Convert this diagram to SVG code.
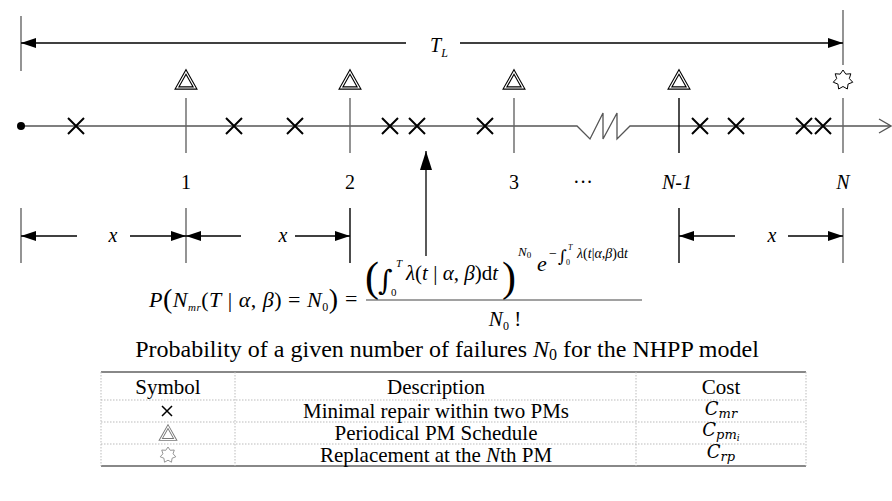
<svg xmlns="http://www.w3.org/2000/svg" width="892" height="501" viewBox="0 0 892 501" font-family="'Liberation Serif', 'Times New Roman', serif">
<style>
text{font-family:"Liberation Serif","Times New Roman",serif;fill:#000}
.i{font-style:italic}
.int{font-family:"DejaVu Serif","Liberation Serif",serif}
.tl{stroke:#555;stroke-width:1.3;fill:none}
.tick{stroke:#666;stroke-width:1.4}
.blk{stroke:#000;stroke-width:1.4}
.ar{stroke:#000;stroke-width:1.3;fill:none}
.x{stroke:#000;stroke-width:2;fill:none}
.gd{stroke:#bbb;stroke-width:1;stroke-dasharray:1.5 1.5}
.gs{stroke:#888;stroke-width:1.8}
.cm{font-family:"DejaVu Serif","Liberation Serif",serif;font-style:italic}
</style>
<defs>
<marker id="ah" markerUnits="userSpaceOnUse" markerWidth="16" markerHeight="12" refX="15" refY="5" orient="auto"><path d="M0,0 L15,5 L0,10 z" fill="#000"/></marker>
<marker id="ahb" markerUnits="userSpaceOnUse" markerWidth="20" markerHeight="14" refX="19" refY="6" orient="auto"><path d="M0,0 L19,6 L0,12 z" fill="#000"/></marker>
<path id="xm" d="M-8,-8 L8,8 M-8,8 L8,-8"/>
<path id="tri" d="M0,-8 L9,8 L-9,8 Z"/>
<path id="star" d="M0,-10 L2.82,-5.86 L7.82,-6.24 L6.34,-1.45 L9.75,2.22 L5.08,4.05 L4.34,9.01 L0,6.5 L-4.34,9.01 L-5.08,4.05 L-9.75,2.22 L-6.34,-1.45 L-7.82,-6.24 L-2.82,-5.86 Z"/>
</defs>

<g id="connectors">
<line class="tick" x1="21" y1="16" x2="21" y2="71"/>
<line class="tick" x1="843" y1="10" x2="843" y2="65"/>
<line class="ar" x1="406" y1="43" x2="21" y2="43" marker-end="url(#ah)"/>
<line class="ar" x1="460" y1="43" x2="843" y2="43" marker-end="url(#ah)"/>
<path class="tl" d="M21,126 H577 L590,139 L603,113 L603,139 L617,113 L617,139 L630,126 H890"/>
<path class="tl" d="M879,119 L891,126 L879,133"/>
<line class="tick" x1="21" y1="208" x2="21" y2="263"/>
<line class="tick" x1="186" y1="208" x2="186" y2="263"/>
<line class="blk" x1="350" y1="208" x2="350" y2="263"/>
<line class="blk" x1="679" y1="208" x2="679" y2="263"/>
<line class="tick" x1="843" y1="208" x2="843" y2="263"/>
<line class="ar" x1="77" y1="236" x2="21" y2="236" marker-end="url(#ah)"/>
<line class="ar" x1="130" y1="236" x2="186" y2="236" marker-end="url(#ah)"/>
<line class="ar" x1="241" y1="236" x2="186" y2="236" marker-end="url(#ah)"/>
<line class="ar" x1="295" y1="236" x2="350" y2="236" marker-end="url(#ah)"/>
<line class="ar" x1="735" y1="236" x2="679" y2="236" marker-end="url(#ah)"/>
<line class="ar" x1="788" y1="236" x2="843" y2="236" marker-end="url(#ah)"/>
<line class="ar" x1="426" y1="256" x2="426" y2="151" stroke-width="1.6" marker-end="url(#ahb)"/>
</g>

<g id="start"><circle cx="21" cy="126" r="4" fill="#000"/></g>

<g id="failures">
<use href="#xm" class="x" x="76" y="126"/>
<use href="#xm" class="x" x="234" y="126"/>
<use href="#xm" class="x" x="295" y="126"/>
<use href="#xm" class="x" x="390" y="126"/>
<use href="#xm" class="x" x="417" y="126"/>
<use href="#xm" class="x" x="485" y="126"/>
<use href="#xm" class="x" x="700" y="126"/>
<use href="#xm" class="x" x="736" y="126"/>
<use href="#xm" class="x" x="804" y="126"/>
<use href="#xm" class="x" x="823" y="126"/>
</g>

<g id="pm1"><line class="tick" x1="186" y1="98" x2="186" y2="153"/><use href="#tri" x="186" y="80" fill="none" stroke="#000" stroke-width="3.4"/><use href="#tri" x="186" y="80" fill="none" stroke="#fff" stroke-width="1.2"/><text x="186" y="189" font-size="20" text-anchor="middle">1</text></g>
<g id="pm2"><line class="tick" x1="350" y1="98" x2="350" y2="153"/><use href="#tri" x="350" y="80" fill="none" stroke="#000" stroke-width="3.4"/><use href="#tri" x="350" y="80" fill="none" stroke="#fff" stroke-width="1.2"/><text x="350" y="189" font-size="20" text-anchor="middle">2</text></g>
<g id="pm3"><line class="tick" x1="514" y1="98" x2="514" y2="153"/><use href="#tri" x="514" y="80" fill="none" stroke="#000" stroke-width="3.4"/><use href="#tri" x="514" y="80" fill="none" stroke="#fff" stroke-width="1.2"/><text x="514" y="189" font-size="20" text-anchor="middle">3</text></g>
<g id="dots"><text x="583" y="189" font-size="20" text-anchor="middle">···</text></g>
<g id="pmN1"><line class="blk" x1="679" y1="98" x2="679" y2="153"/><use href="#tri" x="679" y="80" fill="none" stroke="#000" stroke-width="3.4"/><use href="#tri" x="679" y="80" fill="none" stroke="#fff" stroke-width="1.2"/><text x="677" y="189" font-size="20" text-anchor="middle" class="i">N-1</text></g>
<g id="pmN"><line class="tick" x1="843" y1="98" x2="843" y2="153"/><use href="#star" x="843" y="80" fill="#fff" stroke="#000" stroke-width="1"/><text x="843" y="189" font-size="20" text-anchor="middle" class="i">N</text></g>

<g id="labels">
<text x="430" y="52" font-size="20" class="i">T<tspan font-size="12" dy="5">L</tspan></text>
<text x="113" y="242" font-size="20" text-anchor="middle" class="i">x</text>
<text x="283" y="242" font-size="20" text-anchor="middle" class="i">x</text>
<text x="772" y="242" font-size="20" text-anchor="middle" class="i">x</text>
</g>

<g id="formula">
<text x="149" y="307" font-size="22" textLength="189" lengthAdjust="spacing"><tspan class="i">P</tspan><tspan font-size="28" dy="1">(</tspan><tspan class="i" dy="-1">N</tspan><tspan class="i" font-size="11" dy="4">mr</tspan><tspan dy="-4">(</tspan><tspan class="i">T</tspan> | <tspan class="i">α</tspan>, <tspan class="i">β</tspan>) = <tspan class="i">N</tspan><tspan font-size="12" dy="4">0</tspan><tspan font-size="28" dy="-3">)</tspan></text>
<text x="345" y="306" font-size="22">=</text>
<text x="365" y="291" font-size="42">(</text>
<text x="378" y="290" font-size="28" class="int">∫</text>
<text x="391" y="296" font-size="11">0</text>
<text x="396" y="267" font-size="11" class="i">T</text>
<text x="406" y="280" font-size="21"><tspan class="i">λ</tspan>(<tspan class="i">t</tspan> | <tspan class="i">α</tspan>, <tspan class="i">β</tspan>)d<tspan class="i">t</tspan></text>
<text x="502" y="291" font-size="42">)</text>
<text x="518" y="256" font-size="13" class="i">N<tspan font-size="9" dy="2" font-style="normal">0</tspan></text>
<text x="537" y="271" font-size="22" class="i">e</text>
<text x="549" y="258" font-size="14">−</text>
<text x="558" y="262" font-size="17" class="int">∫</text>
<text x="566" y="265" font-size="8">0</text>
<text x="568" y="250" font-size="8" class="i">T</text>
<text x="577" y="258" font-size="14"><tspan class="i">λ</tspan>(<tspan class="i">t</tspan>|<tspan class="i">α</tspan>,<tspan class="i">β</tspan>)d<tspan class="i">t</tspan></text>
<line x1="366" y1="300" x2="642" y2="300" stroke="#444" stroke-width="1.2"/>
<text x="505" y="326" font-size="21" text-anchor="middle"><tspan class="i">N</tspan><tspan font-size="12" dy="4">0</tspan><tspan dy="-4"> !</tspan></text>
</g>

<g id="caption">
<text x="447" y="357" font-size="24" text-anchor="middle">Probability of a given number of failures <tspan class="i">N</tspan><tspan font-size="16" dy="3">0</tspan><tspan dy="-3"> for the NHPP model</tspan></text>
</g>

<g id="legend">
<line class="gs" x1="101" y1="372" x2="806" y2="372"/>
<line class="gs" x1="101" y1="466" x2="806" y2="466"/>
<line class="gd" x1="101" y1="400" x2="806" y2="400"/>
<line class="gd" x1="101" y1="422" x2="806" y2="422"/>
<line class="gd" x1="101" y1="444" x2="806" y2="444"/>
<line class="gd" x1="101" y1="372" x2="101" y2="466"/>
<line class="gd" x1="235" y1="372" x2="235" y2="466"/>
<line class="gd" x1="636" y1="372" x2="636" y2="466"/>
<line class="gd" x1="806" y1="372" x2="806" y2="466"/>
<text x="168" y="394" font-size="21" text-anchor="middle">Symbol</text>
<text x="436" y="394" font-size="21" text-anchor="middle">Description</text>
<text x="721" y="394" font-size="21" text-anchor="middle">Cost</text>
<path d="M162,406 L172,416 M162,416 L172,406" stroke="#000" stroke-width="1.5"/>
<use href="#tri" transform="translate(168,433) scale(0.8)" fill="none" stroke="#777" stroke-width="3.6"/>
<use href="#tri" transform="translate(168,433) scale(0.8)" fill="none" stroke="#fff" stroke-width="1.3"/>
<use href="#star" transform="translate(168,455) scale(0.8)" fill="none" stroke="#888" stroke-width="1.1"/>
<text x="436" y="418" font-size="21" text-anchor="middle">Minimal repair within two PMs</text>
<text x="436" y="440" font-size="21" text-anchor="middle">Periodical PM Schedule</text>
<text x="436" y="462" font-size="21" text-anchor="middle">Replacement at the <tspan class="i">N</tspan>th PM</text>
<text x="721" y="415" font-size="18" class="cm" text-anchor="middle">C<tspan font-size="13" dy="3">mr</tspan></text>
<text x="721" y="436" font-size="18" class="cm" text-anchor="middle">C<tspan font-size="13" dy="3">pm</tspan><tspan font-size="9" dy="2">i</tspan></text>
<text x="721" y="458" font-size="18" class="cm" text-anchor="middle">C<tspan font-size="13" dy="3">rp</tspan></text>
</g>
</svg>
